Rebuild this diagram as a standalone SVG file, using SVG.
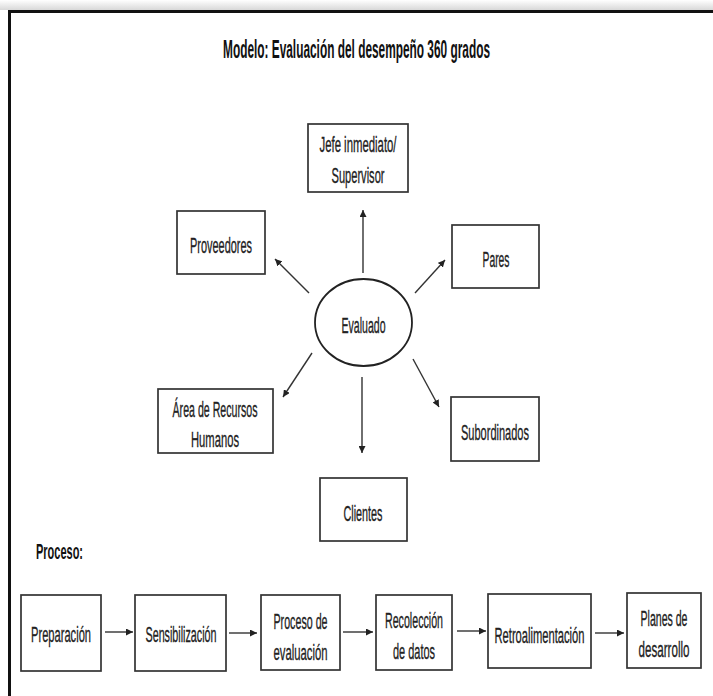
<svg xmlns="http://www.w3.org/2000/svg" width="713" height="696" viewBox="0 0 713 696">
<defs>
<linearGradient id="shadow" x1="0" y1="0" x2="0" y2="1">
<stop offset="0" stop-color="#ffffff"/>
<stop offset="1" stop-color="#d8d8d8"/>
</linearGradient>
<marker id="ah" viewBox="0 0 10 10" refX="10" refY="5" markerWidth="7" markerHeight="7" markerUnits="userSpaceOnUse" orient="auto">
<path d="M0,0 L10,5 L0,10 z" fill="#222"/>
</marker>
</defs>
<style>
.box{fill:#fff;stroke:#333;stroke-width:1.7}
.t{font-family:"Liberation Sans",Arial,sans-serif;font-size:22.5px;fill:#222;stroke:#222;stroke-width:0.35;text-anchor:middle}
.b{font-family:"Liberation Sans",Arial,sans-serif;font-weight:bold;fill:#111}
.c{stroke:#333;stroke-width:1.4;fill:none;marker-end:url(#ah)}
</style>
<rect x="0" y="0" width="713" height="696" fill="#fff"/>
<rect x="0" y="0" width="713" height="10" fill="url(#shadow)"/>
<g id="frame">
<line x1="8" y1="11.5" x2="713" y2="11.5" stroke="#111" stroke-width="3"/>
<line x1="9.5" y1="10" x2="9.5" y2="696" stroke="#111" stroke-width="3"/>
</g>
<text id="title" class="b" transform="translate(356.5,57.5) scale(0.5,1)" x="0" y="0" font-size="25" text-anchor="middle" textLength="534" lengthAdjust="spacingAndGlyphs">Modelo: Evaluación del desempeño  360 grados</text>
<g id="connectors">
<line class="c" x1="363" y1="273" x2="363" y2="210"/>
<line class="c" x1="309" y1="293" x2="275" y2="259"/>
<line class="c" x1="415" y1="293" x2="445" y2="260"/>
<line class="c" x1="312" y1="353" x2="283" y2="397"/>
<line class="c" x1="362" y1="377" x2="362" y2="453"/>
<line class="c" x1="413" y1="359" x2="439" y2="407"/>
<line class="c" x1="105" y1="632" x2="133" y2="632"/>
<line class="c" x1="229" y1="633" x2="257" y2="633"/>
<line class="c" x1="343" y1="632" x2="373" y2="632"/>
<line class="c" x1="457" y1="631" x2="486" y2="631"/>
<line class="c" x1="595" y1="633" x2="624" y2="633"/>
</g>
<g id="evaluado">
<ellipse cx="363.5" cy="322.5" rx="48.5" ry="43.5" fill="#fff" stroke="#222" stroke-width="1.8"/>
<text class="t" transform="translate(363.5,332.5) scale(0.5,1)" x="0" y="0" textLength="88" lengthAdjust="spacingAndGlyphs">Evaluado</text>
</g>
<g id="jefe">
<rect class="box" x="308" y="124" width="100" height="68"/>
<text class="t" transform="translate(358,151.5) scale(0.5,1)" x="0" y="0" textLength="154" lengthAdjust="spacingAndGlyphs">Jefe inmediato/</text>
<text class="t" transform="translate(358,182.5) scale(0.5,1)" x="0" y="0" textLength="106" lengthAdjust="spacingAndGlyphs">Supervisor</text>
</g>
<g id="proveedores">
<rect class="box" x="177" y="211" width="88" height="63"/>
<text class="t" transform="translate(221,252.5) scale(0.5,1)" x="0" y="0" textLength="124" lengthAdjust="spacingAndGlyphs">Proveedores</text>
</g>
<g id="pares">
<rect class="box" x="452" y="225" width="87" height="63"/>
<text class="t" transform="translate(496,266.5) scale(0.5,1)" x="0" y="0" textLength="54" lengthAdjust="spacingAndGlyphs">Pares</text>
</g>
<g id="rrhh">
<rect class="box" x="158" y="389" width="115" height="64"/>
<text class="t" transform="translate(215,416.5) scale(0.5,1)" x="0" y="0" textLength="170" lengthAdjust="spacingAndGlyphs">Área de Recursos</text>
<text class="t" transform="translate(215,446.5) scale(0.5,1)" x="0" y="0" textLength="96" lengthAdjust="spacingAndGlyphs">Humanos</text>
</g>
<g id="subordinados">
<rect class="box" x="451" y="397" width="88" height="64"/>
<text class="t" transform="translate(495,439.5) scale(0.5,1)" x="0" y="0" textLength="136" lengthAdjust="spacingAndGlyphs">Subordinados</text>
</g>
<g id="clientes">
<rect class="box" x="320" y="478" width="87" height="63"/>
<text class="t" transform="translate(363,520.5) scale(0.5,1)" x="0" y="0" textLength="78" lengthAdjust="spacingAndGlyphs">Clientes</text>
</g>
<text id="proceso-label" class="b" transform="translate(36,558.5) scale(0.5,1)" x="0" y="0" font-size="22.5" textLength="94" lengthAdjust="spacingAndGlyphs">Proceso:</text>
<g id="preparacion">
<rect class="box" x="21" y="595" width="80" height="76"/>
<text class="t" transform="translate(61,641.5) scale(0.5,1)" x="0" y="0" textLength="120" lengthAdjust="spacingAndGlyphs">Preparación</text>
</g>
<g id="sensibilizacion">
<rect class="box" x="135" y="595" width="91" height="76"/>
<text class="t" transform="translate(181,641.5) scale(0.5,1)" x="0" y="0" textLength="142" lengthAdjust="spacingAndGlyphs">Sensibilización</text>
</g>
<g id="proceso-evaluacion">
<rect class="box" x="261" y="595" width="79" height="75"/>
<text class="t" transform="translate(300.5,628.5) scale(0.5,1)" x="0" y="0" textLength="108" lengthAdjust="spacingAndGlyphs">Proceso de</text>
<text class="t" transform="translate(300.5,659.5) scale(0.5,1)" x="0" y="0" textLength="108" lengthAdjust="spacingAndGlyphs">evaluación</text>
</g>
<g id="recoleccion">
<rect class="box" x="376" y="595" width="76" height="75"/>
<text class="t" transform="translate(414,627.5) scale(0.5,1)" x="0" y="0" textLength="116" lengthAdjust="spacingAndGlyphs">Recolección</text>
<text class="t" transform="translate(414,658.5) scale(0.5,1)" x="0" y="0" textLength="84" lengthAdjust="spacingAndGlyphs">de datos</text>
</g>
<g id="retroalimentacion">
<rect class="box" x="488" y="594" width="103" height="74"/>
<text class="t" transform="translate(539.5,642.5) scale(0.5,1)" x="0" y="0" textLength="180" lengthAdjust="spacingAndGlyphs">Retroalimentación</text>
</g>
<g id="planes">
<rect class="box" x="627" y="593" width="74" height="75"/>
<text class="t" transform="translate(664,625.5) scale(0.5,1)" x="0" y="0" textLength="94" lengthAdjust="spacingAndGlyphs">Planes de</text>
<text class="t" transform="translate(664,656.5) scale(0.5,1)" x="0" y="0" textLength="102" lengthAdjust="spacingAndGlyphs">desarrollo</text>
</g>
</svg>
